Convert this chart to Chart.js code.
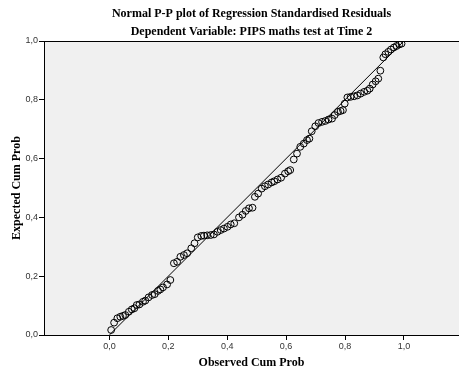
<!DOCTYPE html>
<html>
<head>
<meta charset="utf-8">
<script src="https://cdn.jsdelivr.net/npm/chart.js@4"></script>
<style>
  html, body { margin: 0; padding: 0; background: #fff; }
  #wrap { width: 459px; height: 372px; }
</style>
</head>
<body>
<div id="wrap"><canvas id="pp" width="459" height="372"></canvas></div>
<script>
// observed cumulative probability (x) and expected cumulative probability (y)
const obsProb = [
  0.006, 0.016, 0.027, 0.037, 0.046, 0.054, 0.066, 0.076, 0.085, 0.093,
  0.102, 0.114, 0.122, 0.133, 0.145, 0.154, 0.165, 0.173, 0.182, 0.196,
  0.207, 0.219, 0.230, 0.241, 0.253, 0.264, 0.278, 0.289, 0.300, 0.312,
  0.321, 0.332, 0.344, 0.355, 0.367, 0.378, 0.389, 0.401, 0.412, 0.424,
  0.440, 0.452, 0.463, 0.474, 0.486, 0.494, 0.505, 0.517, 0.528, 0.539,
  0.551, 0.560, 0.571, 0.583, 0.596, 0.607, 0.614, 0.626, 0.637, 0.648,
  0.660, 0.671, 0.679, 0.687, 0.699, 0.710, 0.722, 0.733, 0.744, 0.756,
  0.765, 0.776, 0.785, 0.793, 0.799, 0.808, 0.819, 0.831, 0.842, 0.853,
  0.865, 0.876, 0.884, 0.894, 0.904, 0.913, 0.920, 0.930, 0.937, 0.947,
  0.956, 0.966, 0.975, 0.984, 0.992
];
const expProb = [
  0.017, 0.042, 0.057, 0.062, 0.065, 0.068, 0.079, 0.087, 0.091, 0.102,
  0.104, 0.113, 0.117, 0.128, 0.136, 0.139, 0.150, 0.155, 0.162, 0.172,
  0.187, 0.244, 0.249, 0.266, 0.272, 0.278, 0.295, 0.312, 0.332, 0.337,
  0.338, 0.339, 0.340, 0.342, 0.351, 0.357, 0.362, 0.368, 0.376, 0.380,
  0.400, 0.409, 0.422, 0.431, 0.433, 0.470, 0.481, 0.498, 0.506, 0.512,
  0.519, 0.523, 0.529, 0.535, 0.549, 0.557, 0.561, 0.597, 0.617, 0.640,
  0.651, 0.663, 0.668, 0.693, 0.710, 0.721, 0.725, 0.728, 0.733, 0.736,
  0.748, 0.759, 0.762, 0.765, 0.787, 0.808, 0.810, 0.812, 0.815, 0.821,
  0.827, 0.831, 0.838, 0.852, 0.863, 0.872, 0.899, 0.944, 0.955, 0.963,
  0.971, 0.978, 0.983, 0.988, 0.991
];
const refLine = [0, 1];
const xTicks = [0, 0.2, 0.4, 0.6, 0.8, 1.0];
const yTicks = [0, 0.2, 0.4, 0.6, 0.8, 1.0];

const titleText = "Normal P-P plot of Regression Standardised Residuals";
const subtitleText = "Dependent Variable: PIPS maths test at Time 2";
const xTitle = "Observed Cum Prob";
const yTitle = "Expected Cum Prob";

const serifBold = "bold 12px 'Liberation Serif', 'Times New Roman', serif";
const fmt = v => Number(v).toFixed(1).replace(".", ",");

/* =======================
   Frame + text plugin
======================= */
const spssFrame = {
  id: "spssFrame",
  beforeDraw(chart) {
    const { ctx, chartArea: a } = chart;
    ctx.save();
    ctx.fillStyle = "#f0f0f0";
    ctx.fillRect(a.left, a.top, a.right - a.left, a.bottom - a.top);
    ctx.restore();
  },
  afterDraw(chart) {
    const { ctx, chartArea: a } = chart;
    const cx = (a.left + a.right) / 2;
    const cy = (a.top + a.bottom) / 2;
    ctx.save();
    // top border
    ctx.strokeStyle = "#000";
    ctx.lineWidth = 1;
    ctx.beginPath();
    ctx.moveTo(a.left, a.top + 0.5);
    ctx.lineTo(a.right, a.top + 0.5);
    ctx.stroke();

    ctx.fillStyle = "#000";
    ctx.font = serifBold;
    ctx.textAlign = "center";
    ctx.textBaseline = "middle";
    ctx.fillText(titleText, cx, 14);
    ctx.fillText(subtitleText, cx, 32);
    ctx.fillText(xTitle, cx, 363);

    ctx.translate(17, cy);
    ctx.rotate(-Math.PI / 2);
    ctx.fillText(yTitle, 0, 0);
    ctx.restore();
  }
};

/* =======================
   Chart
======================= */
const ctx = document.getElementById("pp").getContext("2d");
const points = obsProb.map((x, i) => ({ x, y: expProb[i] }));

new Chart(ctx, {
  type: "scatter",
  data: {
    datasets: [
      {
        data: refLine.map(v => ({ x: v, y: v })),
        type: "line",
        showLine: true,
        borderColor: "#000",
        borderWidth: 1,
        pointRadius: 0,
        fill: false
      },
      {
        data: points,
        pointRadius: 3.4,
        pointBorderWidth: 1,
        pointBorderColor: "#000",
        pointBackgroundColor: "rgba(0,0,0,0)"
      }
    ]
  },
  options: {
    responsive: false,
    animation: false,
    layout: { autoPadding: false, padding: { top: 41, right: 0, left: 0, bottom: 0 } },
    plugins: {
      legend: { display: false },
      tooltip: { enabled: false }
    },
    scales: {
      x: {
        type: "linear",
        min: -0.222,
        max: 1.187,
        afterBuildTicks: s => { s.ticks = xTicks.map(v => ({ value: v })); },
        afterFit: s => { s.height = 37; s.paddingLeft = 0; s.paddingRight = 0; },
        ticks: {
          callback: fmt,
          font: { family: "'Liberation Sans', Arial, sans-serif", size: 9 },
          color: "#333",
          padding: 1,
          maxRotation: 0
        },
        grid: { drawOnChartArea: false, drawTicks: true, tickLength: 5, color: "#000" },
        border: { color: "#000", width: 1 }
      },
      y: {
        type: "linear",
        min: 0,
        max: 1,
        afterBuildTicks: s => { s.ticks = yTicks.map(v => ({ value: v })); },
        afterFit: s => { s.width = 44; },
        ticks: {
          callback: fmt,
          font: { family: "'Liberation Sans', Arial, sans-serif", size: 9 },
          color: "#333",
          padding: 1
        },
        grid: { drawOnChartArea: false, drawTicks: true, tickLength: 5, color: "#000" },
        border: { color: "#000", width: 1 }
      }
    }
  },
  plugins: [spssFrame]
});
</script>
</body>
</html>
